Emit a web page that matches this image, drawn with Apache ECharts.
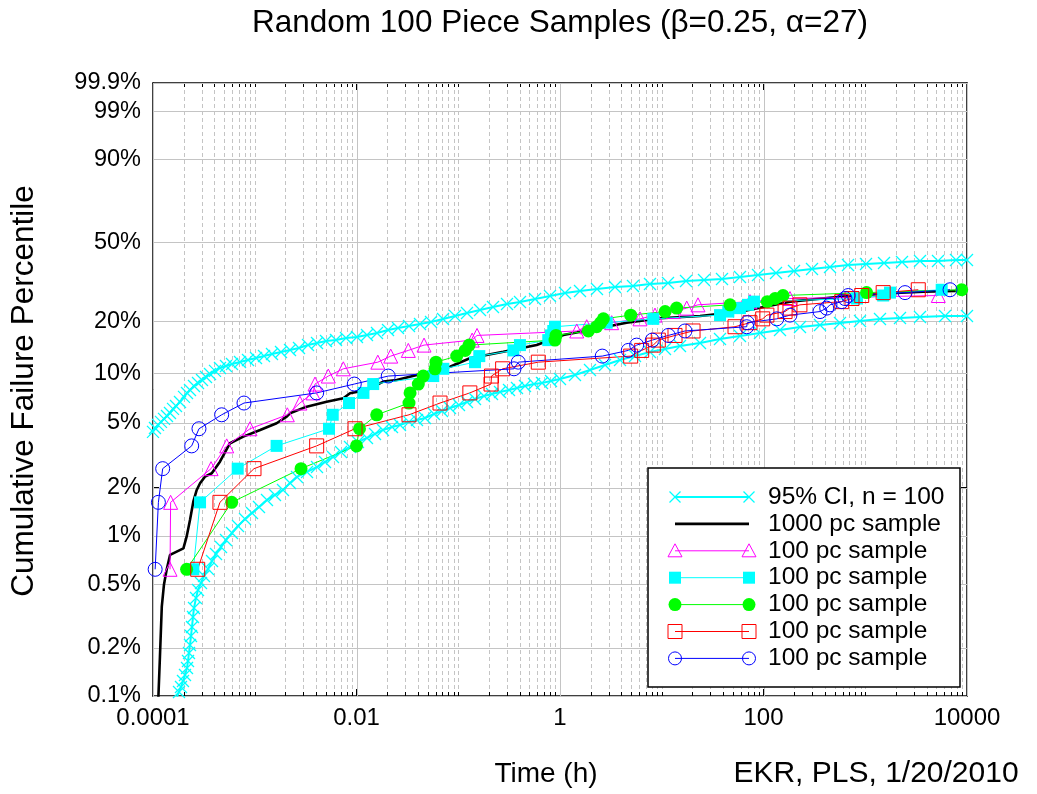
<!DOCTYPE html>
<html><head><meta charset="utf-8">
<script src="https://cdn.jsdelivr.net/npm/echarts@6/dist/echarts.min.js"></script>
<style>html,body{margin:0;padding:0;background:#fff}#c{width:1037px;height:794px}</style>
</head><body><div id="c"></div>
<script>
// ---------- data (time in hours, cumulative failure in %) ----------
const yTickPct = [0.1, 0.2, 0.5, 1, 2, 5, 10, 20, 50, 90, 99, 99.9];
const yTickLabels = ['0.1%','0.2%','0.5%','1%','2%','5%','10%','20%','50%','90%','99%','99.9%'];
const xTickValues = [1e-4, 1e-2, 1, 100, 1e4];
const xTickLabels = ['0.0001','0.01','1','100','10000'];
const legendLabels = ['95% CI, n = 100','1000 pc sample','100 pc sample','100 pc sample','100 pc sample','100 pc sample','100 pc sample'];

// plotting positions of the 100 piece samples (%)
const rankPct = [0.62,1.62,2.62,3.62,4.61,5.61,6.61,7.61,8.60,9.60,10.60,11.60,12.59,13.59,14.59,15.59,16.58,17.58,18.58,19.58,20.57,21.57,22.57,23.57,24.56,25.56,26.56,27.56,28.55,29.55];

const ciUpperT = [1.00e-4,1.046e-4,1.12e-4,1.198e-4,1.283e-4,1.373e-4,1.469e-4,1.573e-4,1.683e-4,1.842e-4,2.017e-4,2.159e-4,2.310e-4,2.529e-4,2.769e-4,3.031e-4,3.318e-4,3.633e-4,4.068e-4,4.555e-4,5.216e-4,5.975e-4,7.161e-4,8.585e-4,1.029e-3,1.233e-3,1.477e-3,1.811e-3,2.221e-3,2.722e-3,3.337e-3,4.091e-3,5.015e-3,6.287e-3,7.885e-3,1.011e-2,1.268e-2,1.590e-2,2.040e-2,2.558e-2,3.281e-2,4.209e-2,5.398e-2,7.083e-2,9.292e-2,0.1219,0.1636,0.2195,0.3014,0.4045,0.5679,0.7974,1.120,1.572,2.310,3.472,5.217,7.663,11.52,17.31,26.02,39.10,58.75,88.29,132.7,199.4,299.7,450.4,676.8,1017,1529,2297,3452,5188,7796,10000];
const ciUpperP = [4.41,4.66,4.87,5.08,5.30,5.52,5.75,6.09,6.35,6.71,7.20,7.60,7.93,8.38,8.73,9.10,9.48,9.88,10.30,10.72,11.01,11.32,11.63,11.95,12.28,12.61,12.96,13.31,13.67,14.04,14.61,15.01,15.41,15.62,16.04,16.25,16.68,17.12,17.81,18.28,18.76,19.25,19.75,20.53,21.34,22.17,23.03,23.91,24.82,25.45,26.41,27.41,28.42,29.12,29.83,30.55,30.93,31.67,32.04,32.81,33.19,33.59,34.37,35.18,35.99,36.83,37.67,38.52,39.39,39.83,40.26,40.71,41.16,41.16,41.61,41.61];

const ciLowerT = [1.722e-4,1.801e-4,1.884e-4,1.971e-4,2.063e-4,2.159e-4,2.208e-4,2.258e-4,2.310e-4,2.363e-4,2.417e-4,2.472e-4,2.529e-4,2.646e-4,2.769e-4,2.963e-4,3.171e-4,3.472e-4,3.802e-4,4.163e-4,4.660e-4,5.216e-4,5.975e-4,6.845e-4,8.022e-4,9.397e-4,1.101e-3,1.319e-3,1.581e-3,1.895e-3,2.221e-3,2.602e-3,3.263e-3,4.091e-3,4.903e-3,5.875e-3,7.042e-3,8.632e-3,1.034e-2,1.268e-2,1.520e-2,1.822e-2,2.233e-2,2.676e-2,3.281e-2,3.932e-2,4.712e-2,5.777e-2,6.923e-2,8.297e-2,0.1017,0.1219,0.1461,0.1791,0.2146,0.2573,0.3153,0.3779,0.4529,0.5553,0.6655,0.8155,1.000,1.404,1.971,2.769,3.888,5.459,7.663,10.76,15.11,23.77,37.36,58.75,92.38,145.3,228.4,359.1,564.7,887.9,1396,2195,3452,6079,10000];
const ciLowerP = [0.099,0.106,0.1139,0.1242,0.1354,0.1498,0.1657,0.1859,0.2087,0.2376,0.2704,0.3123,0.3555,0.4105,0.4606,0.5094,0.5633,0.6229,0.6990,0.7730,0.8546,0.9449,1.0445,1.1553,1.2768,1.391,1.516,1.676,1.801,1.933,2.137,2.328,2.499,2.683,2.881,3.093,3.320,3.565,3.826,4.049,4.284,4.533,4.728,4.863,5.08,5.22,5.364,5.674,5.918,6.170,6.435,6.71,6.995,7.293,7.498,7.708,7.93,8.148,8.38,8.609,8.73,8.973,9.222,9.742,10.43,11.17,11.95,12.61,13.31,13.85,14.42,15.01,15.82,16.45,17.12,17.81,18.52,19.01,19.51,20.02,20.53,20.80,21.07,21.34,21.34];

const blackT = [1.13e-4,1.17e-4,1.22e-4,1.28e-4,1.36e-4,1.47e-4,1.99e-4,2.14e-4,2.31e-4,2.49e-4,2.69e-4,2.90e-4,3.24e-4,3.78e-4,4.55e-4,5.71e-4,7.72e-4,1.13e-3,1.64e-3,2.06e-3,2.22e-3,3.24e-3,5.09e-3,7.42e-3,8.63e-3,1.26e-2,1.83e-2,2.48e-2,3.91e-2,5.28e-2,8.30e-2,0.130,0.277,0.590,1.08,2.13,4.52,9.61,23.8,58.7,182,565,1750,3720,9930];
const blackP = [0.099,0.176,0.362,0.494,0.614,0.762,0.838,0.991,1.258,1.635,1.933,2.128,2.337,2.453,2.893,3.759,4.126,4.533,4.982,5.465,5.731,6.285,6.738,7.064,7.572,7.926,8.888,9.097,9.742,10.19,10.91,12.23,13.36,14.61,16.68,17.97,19.58,20.72,21.34,22.54,25.55,27.16,28.31,28.87,29.22];

const magentaT = [1.47e-4,1.49e-4,3.72e-4,5.30e-4,8.98e-4,2.09e-3,2.78e-3,3.74e-3,3.91e-3,5.28e-3,7.42e-3,1.62e-2,2.17e-2,3.23e-2,4.61e-2,0.137,0.153,1.46,1.83,3.22,6.11,8.58,13.0,17.6,22.7,73.7,182,5220];
const cyanT = [2.49e-4,2.90e-4,6.80e-4,1.64e-3,5.37e-3,5.84e-3,8.44e-3,1.17e-2,1.46e-2,5.68e-2,7.13e-2,0.146,0.161,0.348,0.404,0.767,0.815,0.859,0.893,2.88,8.26,37.4,45.1,58.7,70.4,80.6,830,1500,1750,5640];
const greenT = [2.14e-4,5.93e-4,2.85e-3,1.00e-2,1.07e-2,1.58e-2,3.28e-2,3.36e-2,4.05e-2,4.53e-2,5.91e-2,6.04e-2,9.66e-2,0.117,0.128,0.893,0.914,1.90,2.29,2.51,2.67,4.95,10.8,14.0,46.9,109,130,155.5,1030,8870];
const redT = [2.75e-4,4.55e-4,9.83e-4,4.06e-3,9.67e-3,3.28e-2,6.62e-2,0.130,0.210,0.212,0.273,0.612,4.95,6.35,8.26,9.25,13.5,20.3,52.5,73.7,98.2,108,163,182,228,587,741,923,1500,3320];
const blueT = [1.05e-4,1.13e-4,1.245e-4,2.40e-4,2.83e-4,4.73e-4,7.84e-4,4.06e-3,9.51e-3,2.05e-2,0.353,0.389,2.60,4.69,5.67,8.07,11.6,16.9,68.4,69.3,135,182,359,418,450,587,632,681,2460,6810];

// ---------- helpers ----------
const FONT = '"Liberation Sans", Arial, Helvetica, sans-serif';
const W = p => Math.log(-Math.log(1 - p / 100));   // Weibull probability scale
const yMinW = W(yTickPct[0]), yMaxW = W(yTickPct[yTickPct.length - 1]);
const pairs = (ts, ps) => ts.map((t, i) => [t, W(ps[i])]);
const sample = ts => pairs(ts, rankPct.slice(0, ts.length));

const minorX = [];
for (let e = -4; e < 4; e++) {
  for (let m = 1; m <= 9; m++) {
    if (m === 1 && e % 2 === 0) continue;
    minorX.push(+(m * Math.pow(10, e)).toPrecision(3));
  }
}
const yTickW = yTickPct.map(W);

function yLabel(v) {
  for (let i = 0; i < yTickW.length; i++) if (Math.abs(yTickW[i] - v) < 1e-6) return yTickLabels[i];
  return '';
}
function xLabel(v) {
  const e = Math.round(Math.log10(v));
  for (let i = 0; i < xTickValues.length; i++) if (Math.round(Math.log10(xTickValues[i])) === e) return xTickLabels[i];
  return '';
}

const GRID = '#c4c4c4';
function vGrid(dashed, ticks) {
  return function (params, api) {
    const cs = params.coordSys;
    const x = Math.round(api.coord([api.value(0), yMinW])[0]) + 0.5;
    const ch = [{type: 'line', shape: {x1: x, y1: cs.y, x2: x, y2: cs.y + cs.height},
      style: {stroke: GRID, lineWidth: 1, lineDash: dashed ? [4, 3] : null}}];
    if (ticks) {
      ch.push({type: 'line', shape: {x1: x, y1: cs.y + cs.height, x2: x, y2: cs.y + cs.height - 4}, style: {stroke: '#000', lineWidth: 1}});
      ch.push({type: 'line', shape: {x1: x, y1: cs.y, x2: x, y2: cs.y + 4}, style: {stroke: '#000', lineWidth: 1}});
    }
    return {type: 'group', children: ch};
  };
}
function hGrid(params, api) {
  const cs = params.coordSys;
  const y = Math.round(api.coord([1, api.value(1)])[1]) + 0.5;
  return {type: 'line', shape: {x1: cs.x, y1: y, x2: cs.x + cs.width, y2: y}, style: {stroke: GRID, lineWidth: 1}};
}

const crossPath = 'path://M0,0L10,10M10,0L0,10';
function lineSeries(name, data, color, opt) {
  return Object.assign({
    type: 'line', name, data, z: 3, silent: true, showAllSymbol: true,
    lineStyle: {color, width: 1}, emphasis: {disabled: true}
  }, opt);
}
const ciOpt = {symbol: crossPath, symbolSize: 12, lineStyle: {color: '#00ffff', width: 2}, itemStyle: {color: 'none', borderColor: '#00ffff', borderWidth: 1.3}};

const series = [
  {type: 'custom', silent: true, z: 1, renderItem: vGrid(true, true), data: minorX.map(v => [v, yMinW])},
  {type: 'custom', silent: true, z: 1, renderItem: vGrid(false, false), data: xTickValues.map(v => [v, yMinW])},
  {type: 'custom', silent: true, z: 1, renderItem: hGrid, data: yTickW.map(w => [1, w])},
  lineSeries(legendLabels[0], pairs(ciUpperT, ciUpperP), '#00ffff', ciOpt),
  lineSeries(legendLabels[0], pairs(ciLowerT, ciLowerP), '#00ffff', ciOpt),
  lineSeries(legendLabels[1], pairs(blackT, blackP), '#000', {symbol: 'none', lineStyle: {color: '#000', width: 2.6}}),
  lineSeries(legendLabels[2], sample(magentaT), '#ff00ff', {symbol: 'triangle', symbolSize: 14, itemStyle: {color: 'none', borderColor: '#ff00ff', borderWidth: 1}}),
  lineSeries(legendLabels[3], sample(cyanT), '#00ffff', {symbol: 'rect', symbolSize: 12, itemStyle: {color: '#00ffff'}}),
  lineSeries(legendLabels[4], sample(greenT), '#00ff00', {symbol: 'circle', symbolSize: 13, itemStyle: {color: '#00ff00'}}),
  lineSeries(legendLabels[5], sample(redT), '#ff0000', {symbol: 'rect', symbolSize: 14, itemStyle: {color: 'none', borderColor: '#ff0000', borderWidth: 1}}),
  lineSeries(legendLabels[6], sample(blueT), '#0000ff', {symbol: 'circle', symbolSize: 14, itemStyle: {color: 'none', borderColor: '#0000ff', borderWidth: 1}})
];

// ---------- legend (drawn as graphic) ----------
const LG = {x: 648, y: 468, w: 312, h: 219, row0: 497, dy: 26.9, x1: 675, x2: 749, tx: 768};
const legendStyle = [
  {color: '#00ffff', width: 2, sym: 'x'},
  {color: '#000', width: 2.6, sym: null},
  {color: '#ff00ff', width: 1, sym: 'tri'},
  {color: '#00ffff', width: 1, sym: 'rectF'},
  {color: '#00ff00', width: 1, sym: 'circF'},
  {color: '#ff0000', width: 1, sym: 'rectO'},
  {color: '#0000ff', width: 1, sym: 'circO'}
];
const ZL = 100;
function legSym(kind, cx, cy, c) {
  switch (kind) {
    case 'x': return [
      {type: 'line', z: ZL, shape: {x1: cx - 5.5, y1: cy - 5.5, x2: cx + 5.5, y2: cy + 5.5}, style: {stroke: c, lineWidth: 1.3}},
      {type: 'line', z: ZL, shape: {x1: cx - 5.5, y1: cy + 5.5, x2: cx + 5.5, y2: cy - 5.5}, style: {stroke: c, lineWidth: 1.3}}];
    case 'tri': return [{type: 'polygon', z: ZL, shape: {points: [[cx, cy - 7], [cx + 7, cy + 6], [cx - 7, cy + 6]]}, style: {fill: 'none', stroke: c, lineWidth: 1}}];
    case 'rectF': return [{type: 'rect', z: ZL, shape: {x: cx - 6, y: cy - 6, width: 12, height: 12}, style: {fill: c}}];
    case 'rectO': return [{type: 'rect', z: ZL, shape: {x: cx - 7, y: cy - 7, width: 14, height: 14}, style: {fill: 'none', stroke: c, lineWidth: 1}}];
    case 'circF': return [{type: 'circle', z: ZL, shape: {cx, cy, r: 6.5}, style: {fill: c}}];
    case 'circO': return [{type: 'circle', z: ZL, shape: {cx, cy, r: 6.5}, style: {fill: 'none', stroke: c, lineWidth: 1}}];
  }
  return [];
}
const legendEls = [{type: 'rect', z: ZL - 1, shape: {x: LG.x, y: LG.y, width: LG.w, height: LG.h}, style: {fill: '#fff', stroke: '#000', lineWidth: 1.5}}];
legendLabels.forEach((lab, i) => {
  const cy = LG.row0 + i * LG.dy, s = legendStyle[i];
  legendEls.push({type: 'line', z: ZL, shape: {x1: LG.x1, y1: cy, x2: LG.x2, y2: cy}, style: {stroke: s.color, lineWidth: s.width}});
  if (s.sym) legendEls.push(...legSym(s.sym, LG.x1, cy, s.color), ...legSym(s.sym, LG.x2, cy, s.color));
  legendEls.push({type: 'text', z: ZL, x: LG.tx, y: cy, style: {text: lab, font: '24.5px ' + FONT, fill: '#000', align: 'left', verticalAlign: 'middle', textAlign: 'left', textVerticalAlign: 'middle'}});
});

function txt(text, x, y, size, rot) {
  return {type: 'text', x, y, rotation: rot || 0, style: {text, font: size + 'px ' + FONT, fill: '#000', align: 'center', verticalAlign: 'middle', textAlign: 'center', textVerticalAlign: 'middle'}};
}

const axisLineStyle = {show: true, onZero: false, lineStyle: {color: '#000', width: 1.5}};
const option = {
  animation: false,
  backgroundColor: '#fff',
  grid: {left: 153, right: 70, top: 83, bottom: 98, containLabel: false},
  xAxis: [
    {type: 'log', logBase: 10, min: 1e-4, max: 1e4, interval: 2, position: 'bottom',
     axisLine: axisLineStyle, axisTick: {show: true, inside: true, length: 7, lineStyle: {color: '#000', width: 1}},
     axisLabel: {margin: 10, fontSize: 24, color: '#000', fontFamily: FONT, formatter: xLabel, showMinLabel: true, showMaxLabel: true},
     splitLine: {show: false}},
    {type: 'log', logBase: 10, min: 1e-4, max: 1e4, interval: 2, position: 'top',
     axisLine: axisLineStyle, axisTick: {show: true, inside: true, length: 7, lineStyle: {color: '#000', width: 1}},
     axisLabel: {show: false}, splitLine: {show: false}}
  ],
  yAxis: [
    {type: 'value', min: yMinW, max: yMaxW, position: 'left',
     axisLine: axisLineStyle, axisTick: {show: true, inside: true, length: 6, customValues: yTickW, lineStyle: {color: '#000', width: 1}},
     axisLabel: {customValues: yTickW, margin: 12, fontSize: 23.5, color: '#000', fontFamily: FONT, formatter: yLabel, showMinLabel: true, showMaxLabel: true},
     splitLine: {show: false}},
    {type: 'value', min: yMinW, max: yMaxW, position: 'right',
     axisLine: axisLineStyle, axisTick: {show: true, inside: true, length: 6, customValues: yTickW, lineStyle: {color: '#000', width: 1}},
     axisLabel: {show: false}, splitLine: {show: false}}
  ],
  series,
  graphic: [
    txt('Random 100 Piece Samples (\u03b2=0.25, \u03b1=27)', 560, 23, 31.5),
    txt('Cumulative Failure Percentile', 24, 391, 31.5, Math.PI / 2),
    txt('Time (h)', 546, 774, 28),
    txt('EKR, PLS, 1/20/2010', 876, 774, 30)
  ].concat(legendEls)
};
const chart = echarts.init(document.getElementById('c'), null, {renderer: 'canvas'});
chart.setOption(option);
</script></body></html>
